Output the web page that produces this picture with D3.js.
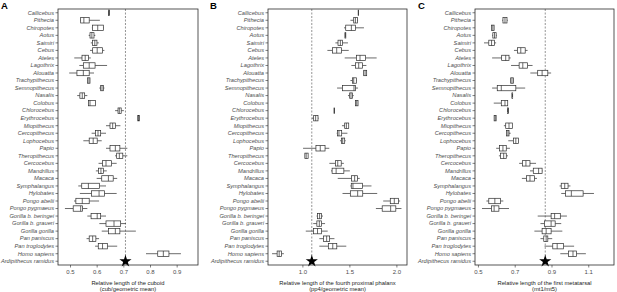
<!DOCTYPE html>
<html>
<head>
<meta charset="utf-8">
<script src="https://cdn.jsdelivr.net/npm/d3@7"></script>
<style>
  html, body { margin: 0; padding: 0; background: #fff; }
  svg { display: block; font-family: "Liberation Sans", Arial, sans-serif; }
</style>
</head>
<body>
<div id="chart"></div>
<script>
const taxa = ['Callicebus','Pithecia','Chiropotes','Aotus','Saimiri','Cebus','Ateles','Lagothrix','Alouatta',
  'Trachypithecus','Semnopithecus','Nasalis','Colobus','Chlorocebus','Erythrocebus','Miopithecus','Cercopithecus',
  'Lophocebus','Papio','Theropithecus','Cercocebus','Mandrillus','Macaca','Symphalangus','Hylobates',
  'Pongo abelii','Pongo pygmaeus','Gorilla b. beringei','Gorilla b. graueri','Gorilla gorilla','Pan paniscus',
  'Pan troglodytes','Homo sapiens','Ardipithecus ramidus'];

// [min, q1, median, q3, max] per taxon (Ardipithecus shown as a star)
const cuboid = [
  [0.644,0.644,0.646,0.648,0.648],[0.538,0.540,0.552,0.572,0.612],[0.582,0.584,0.604,0.625,0.627],
  [0.570,0.575,0.582,0.590,0.595],[0.578,0.584,0.593,0.601,0.608],[0.575,0.585,0.602,0.622,0.629],
  [0.516,0.545,0.557,0.569,0.578],[0.535,0.550,0.572,0.594,0.639],[0.497,0.526,0.550,0.572,0.590],
  [0.566,0.566,0.571,0.575,0.575],[0.610,0.615,0.620,0.625,0.629],[0.527,0.537,0.546,0.555,0.565],
  [0.569,0.569,0.575,0.596,0.596],[0.669,0.680,0.685,0.692,0.702],[0.754,0.754,0.757,0.760,0.760],
  [0.635,0.650,0.660,0.670,0.689],[0.581,0.596,0.605,0.615,0.635],[0.550,0.572,0.587,0.602,0.619],
  [0.635,0.650,0.670,0.687,0.715],[0.669,0.675,0.685,0.698,0.715],[0.607,0.622,0.635,0.656,0.675],
  [0.597,0.607,0.616,0.625,0.638],[0.600,0.619,0.644,0.662,0.677],[0.531,0.544,0.569,0.610,0.635],
  [0.537,0.581,0.609,0.629,0.675],[0.515,0.522,0.546,0.572,0.609],[0.481,0.512,0.540,0.547,0.565],
  [0.565,0.579,0.602,0.615,0.635],[0.610,0.635,0.665,0.690,0.710],[0.619,0.644,0.670,0.687,0.747],
  [0.562,0.572,0.585,0.597,0.609],[0.594,0.606,0.622,0.640,0.677],[0.785,0.829,0.850,0.871,0.916],
  null
];
const phalanx = [
  [1.594,1.594,1.596,1.598,1.598],[1.511,1.546,1.564,1.585,1.592],[1.443,1.461,1.521,1.564,1.655],
  [1.453,1.453,1.457,1.462,1.462],[1.351,1.379,1.404,1.426,1.485],[1.266,1.319,1.365,1.415,1.493],
  [1.450,1.574,1.613,1.673,1.790],[1.521,1.564,1.599,1.638,1.681],[1.652,1.652,1.667,1.684,1.684],
  [1.511,1.532,1.546,1.574,1.578],[1.369,1.426,1.549,1.564,1.592],[1.485,1.503,1.517,1.532,1.546],
  [1.564,1.564,1.578,1.592,1.592],[1.337,1.337,1.340,1.343,1.343],[1.102,1.120,1.141,1.166,1.173],
  [1.421,1.450,1.468,1.493,1.493],[1.365,1.372,1.389,1.418,1.479],[1.400,1.415,1.429,1.450,1.461],
  [1.007,1.144,1.190,1.241,1.286],[1.026,1.026,1.040,1.061,1.061],[1.287,1.352,1.376,1.413,1.441],
  [1.305,1.316,1.359,1.441,1.505],[1.376,1.524,1.556,1.585,1.610],[1.510,1.520,1.538,1.638,1.735],
  [1.427,1.510,1.588,1.642,1.796],[1.860,1.935,1.978,2.022,2.040],[1.782,1.849,1.939,1.994,2.054],
  [1.151,1.161,1.183,1.204,1.219],[1.115,1.154,1.180,1.204,1.241],[1.036,1.118,1.161,1.204,1.269],
  [1.180,1.226,1.258,1.290,1.341],[1.180,1.276,1.323,1.366,1.467],[0.677,0.731,0.753,0.778,0.803],
  null
];
const metatarsal = [
  null,[0.632,0.636,0.647,0.658,0.662],[0.574,0.574,0.581,0.588,0.588],
  [0.577,0.581,0.590,0.599,0.603],[0.533,0.559,0.574,0.590,0.599],[0.696,0.715,0.733,0.757,0.770],
  [0.577,0.629,0.651,0.669,0.678],[0.680,0.724,0.744,0.770,0.797],[0.785,0.825,0.849,0.880,0.898],
  [0.678,0.678,0.685,0.693,0.693],[0.577,0.605,0.627,0.706,0.757],[0.685,0.685,0.687,0.689,0.689],
  [0.586,0.627,0.647,0.662,0.662],[0.660,0.660,0.663,0.666,0.666],[0.588,0.588,0.594,0.599,0.599],
  [0.641,0.651,0.669,0.687,0.687],[0.656,0.656,0.663,0.669,0.678],[0.665,0.693,0.706,0.720,0.720],
  [0.599,0.618,0.636,0.654,0.674],[0.614,0.623,0.640,0.654,0.663],[0.724,0.742,0.761,0.783,0.816],
  [0.783,0.801,0.830,0.849,0.852],[0.739,0.764,0.783,0.807,0.821],[0.944,0.953,0.972,0.990,1.003],
  [0.953,0.977,1.008,1.072,1.131],[0.546,0.559,0.592,0.623,0.638],[0.522,0.574,0.588,0.614,0.669],
  [0.825,0.898,0.917,0.948,0.984],[0.840,0.862,0.898,0.920,0.953],[0.807,0.849,0.871,0.898,0.959],
  [0.840,0.858,0.871,0.880,0.904],[0.862,0.907,0.931,0.966,1.023],[0.948,0.992,1.017,1.036,1.087],
  null
];
const ardipithecus = [0.708, 1.10, 0.866];
const ticksA = [0.5, 0.6, 0.7, 0.8, 0.9];
const ticksB = [1.0, 1.5, 2.0];
const ticksC = [0.5, 0.7, 0.9, 1.1];
const letters = ['A', 'B', 'C'];
const titles = [
  ['Relative length of the cuboid', '(cub/geometric mean)'],
  ['Relative length of the fourth proximal phalanx', '(pp4/geometric mean)'],
  ['Relative length of the first metatarsal', '(mt1/mt5)']
];

const W = 617, H = 292;
const yTop = 9, yBot = 265;
const panels = [
  { data: cuboid, ticks: ticksA, domain: [0.455, 0.98], x0: 58, x1: 198, letterX: 1 },
  { data: phalanx, ticks: ticksB, domain: [0.634, 2.113], x0: 268, x1: 407, letterX: 210 },
  { data: metatarsal, ticks: ticksC, domain: [0.484, 1.240], x0: 475, x1: 614, letterX: 418 }
];

const svg = d3.select('#chart').append('svg').attr('width', W).attr('height', H);
const textCol = '#4d4d4d', lineCol = '#2b2b2b';
const y = d3.scaleBand().domain(taxa).range([yTop, yBot]);
const boxH = 5.4;

panels.forEach((p, i) => {
  const x = d3.scaleLinear().domain(p.domain).range([p.x0, p.x1]);
  const g = svg.append('g');

  // y axis
  const ya = g.append('g').attr('transform', `translate(${p.x0},0)`)
    .call(d3.axisLeft(y).tickSize(2.5).tickPadding(1.5));
  ya.select('.domain').remove();
  ya.selectAll('line').attr('stroke', lineCol).attr('stroke-width', 0.6);
  ya.selectAll('text').attr('fill', textCol).attr('font-size', 5.7)
    .attr('font-style', 'italic').attr('font-family', '"Liberation Sans", Arial, sans-serif');

  // x axis
  const xa = g.append('g').attr('transform', `translate(0,${yBot})`)
    .call(d3.axisBottom(x).tickValues(p.ticks).tickFormat(d3.format('.1f')).tickSize(2.5).tickPadding(2));
  xa.select('.domain').remove();
  xa.selectAll('line').attr('stroke', lineCol).attr('stroke-width', 0.6);
  xa.selectAll('text').attr('fill', textCol).attr('font-size', 6)
    .attr('font-family', '"Liberation Sans", Arial, sans-serif');

  // dashed reference line
  g.append('line')
    .attr('x1', x(ardipithecus[i])).attr('x2', x(ardipithecus[i]))
    .attr('y1', yTop).attr('y2', yBot)
    .attr('stroke', '#777').attr('stroke-width', 0.8).attr('stroke-dasharray', '2,1.5');

  const rows = taxa.map((t, k) => ({ t, v: p.data[k] })).filter(d => d.v);
  const bx = g.selectAll('g.bx').data(rows).enter().append('g')
    .attr('transform', d => `translate(0,${y(d.t) + y.bandwidth() / 2})`);
  bx.append('line').attr('x1', d => x(d.v[0])).attr('x2', d => x(d.v[1]))
    .attr('stroke', lineCol).attr('stroke-width', 0.7);
  bx.append('line').attr('x1', d => x(d.v[3])).attr('x2', d => x(d.v[4]))
    .attr('stroke', lineCol).attr('stroke-width', 0.7);
  bx.append('rect').attr('x', d => x(d.v[1])).attr('y', -boxH / 2)
    .attr('width', d => Math.max(0.3, x(d.v[3]) - x(d.v[1]))).attr('height', boxH)
    .attr('fill', '#fff').attr('stroke', lineCol).attr('stroke-width', 0.7);
  bx.append('line').attr('x1', d => x(d.v[2])).attr('x2', d => x(d.v[2]))
    .attr('y1', -boxH / 2).attr('y2', boxH / 2)
    .attr('stroke', lineCol).attr('stroke-width', 0.7);

  // Ardipithecus star
  g.append('path').attr('d', d3.symbol().type(d3.symbolStar).size(46)())
    .attr('transform', `translate(${x(ardipithecus[i])},${y('Ardipithecus ramidus') + y.bandwidth() / 2})`)
    .attr('fill', '#000');

  // frame
  g.append('rect').attr('x', p.x0).attr('y', yTop).attr('width', p.x1 - p.x0).attr('height', yBot - yTop)
    .attr('fill', 'none').attr('stroke', lineCol).attr('stroke-width', 0.8);

  // titles
  const cx = (p.x0 + p.x1) / 2;
  g.append('text').attr('x', cx).attr('y', 284.5).attr('text-anchor', 'middle')
    .attr('font-size', 5.8).attr('fill', '#222').text(titles[i][0]);
  g.append('text').attr('x', cx).attr('y', 290.5).attr('text-anchor', 'middle')
    .attr('font-size', 5.8).attr('fill', '#222').text(titles[i][1]);

  svg.append('text').attr('x', p.letterX).attr('y', 8.5).attr('font-size', 9.5)
    .attr('font-weight', 'bold').attr('fill', '#000').text(letters[i]);
});
</script>
</body>
</html>
